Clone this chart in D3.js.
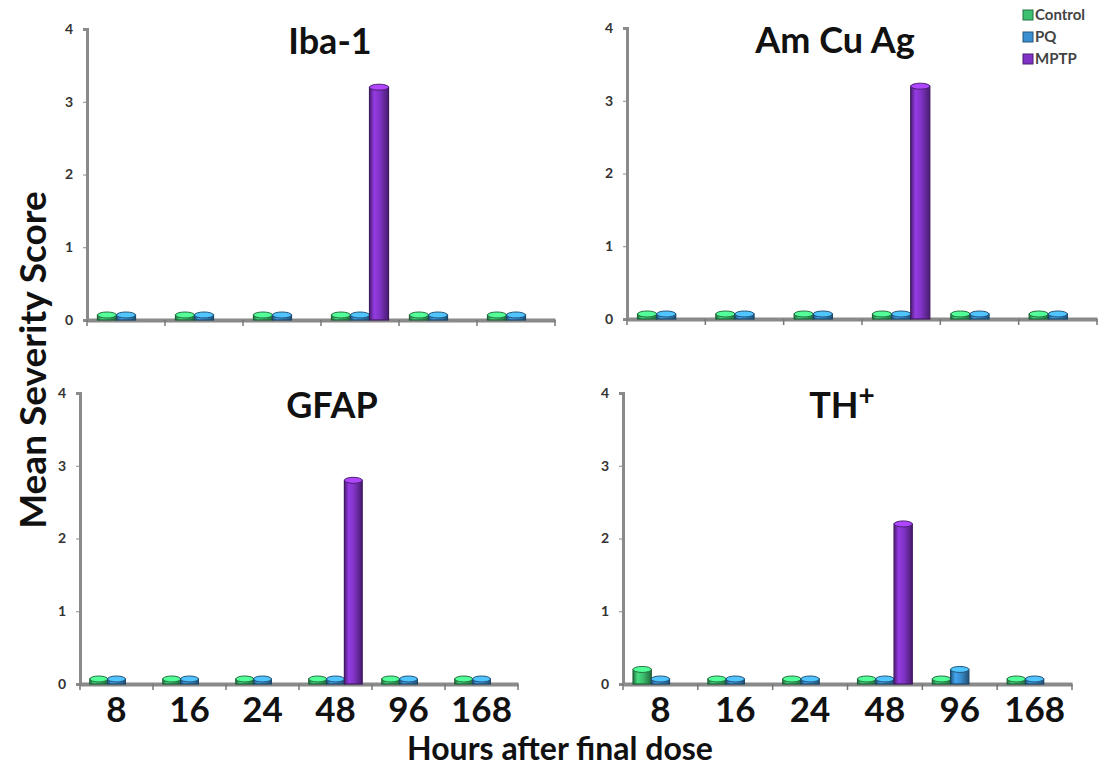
<!DOCTYPE html>
<html lang="en">
<head>
  <meta charset="UTF-8">
  <title>Mean Severity Score by hours after final dose</title>
  <script src="https://d3js.org/d3.v7.min.js"></script>
  <style>
    body { margin: 0; background: #fff; }
    text { font-family: Lato, "Open Sans", sans-serif; }
    .axis path, .axis line { stroke: #8a8a8a; }
    .ytick { font-size: 14px; font-weight: bold; fill: #333; }
    .cat { font-size: 35px; font-weight: bold; fill: #111; }
    .ptitle { font-size: 36px; font-weight: bold; fill: #111; }
    .big { font-size: 32px; font-weight: bold; fill: #111; }
    .ybig { font-size: 37px; font-weight: bold; fill: #111; }
    .legend text { font-size: 15px; font-weight: bold; fill: #444; }
  </style>
</head>
<body>
  <div id="chart"></div>
  <script>
    const hours = ["8", "16", "24", "48", "96", "168"];
    const series = ["Control", "PQ", "MPTP"];
    const colors = { Control: "#3cbf6e", PQ: "#3a8fd0", MPTP: "#8033c4" };
    const yTicks = [0, 1, 2, 3, 4];

    // values per panel (null = not shown)
    const ibaControl = [0, 0, 0, 0, 0, 0];
    const ibaPQ      = [0, 0, 0, 0, 0, 0];
    const ibaMPTP    = [null, null, null, 3.2, null, null];

    const amcuControl = [0, 0, 0, 0, 0, 0];
    const amcuPQ      = [0, 0, 0, 0, 0, 0];
    const amcuMPTP    = [null, null, null, 3.2, null, null];

    const gfapControl = [0, 0, 0, 0, 0, 0];
    const gfapPQ      = [0, 0, 0, 0, 0, 0];
    const gfapMPTP    = [null, null, null, 2.8, null, null];

    const thControl = [0.2, 0, 0, 0, 0, 0];
    const thPQ      = [0, 0, 0, 0, 0.2, 0];
    const thMPTP    = [null, null, null, 2.2, null, null];

    const panels = [
      { title: "Iba-1", sup: "", vals: [ibaControl, ibaPQ, ibaMPTP], x0: 87, x1: 555, yTop: 29, yZero: 320, tx: 330, cats: false },
      { title: "Am Cu Ag", sup: "", vals: [amcuControl, amcuPQ, amcuMPTP], x0: 627, x1: 1097, yTop: 28, yZero: 319, tx: 835, cats: false },
      { title: "GFAP", sup: "", vals: [gfapControl, gfapPQ, gfapMPTP], x0: 80, x1: 518, yTop: 393, yZero: 684, tx: 332, cats: true },
      { title: "TH", sup: "+", vals: [thControl, thPQ, thMPTP], x0: 623, x1: 1072, yTop: 393, yZero: 684, tx: 842, cats: true }
    ];

    const svg = d3.select("#chart").append("svg")
      .attr("width", 1103).attr("height", 768);

    // cylinder gradients
    const defs = svg.append("defs");
    series.forEach(s => {
      const c = d3.color(colors[s]);
      const g = defs.append("linearGradient").attr("id", "g-" + s)
        .attr("x1", "0%").attr("x2", "100%").attr("y1", "0%").attr("y2", "0%");
      g.append("stop").attr("offset", "0%").attr("stop-color", c.darker(1.4));
      g.append("stop").attr("offset", "25%").attr("stop-color", c.brighter(0.4));
      g.append("stop").attr("offset", "55%").attr("stop-color", c);
      g.append("stop").attr("offset", "100%").attr("stop-color", c.darker(1.6));
    });

    panels.forEach(p => {
      const x = d3.scaleBand().domain(hours).range([p.x0, p.x1]);
      const xs = d3.scaleBand().domain(series).range([0, x.bandwidth()]).paddingOuter(0.55);
      const y = d3.scaleLinear().domain([0, 4]).range([p.yZero, p.yTop]);

      const g = svg.append("g");

      // y axis
      const ya = g.append("g").attr("class", "axis")
        .attr("transform", `translate(${p.x0},0)`)
        .call(d3.axisLeft(y).tickValues(yTicks).tickSize(4).tickFormat(d3.format("d")));
      ya.select(".domain").attr("stroke-width", 3);
      ya.selectAll(".tick text").attr("class", "ytick").attr("x", -14);

      // x axis floor
      const xa = g.append("g").attr("class", "axis")
        .attr("transform", `translate(0,${p.yZero})`)
        .call(d3.axisBottom(x).tickSize(0).tickFormat(""));
      xa.select(".domain").attr("stroke-width", 4).attr("stroke", "#999");
      // tick marks at band edges
      g.selectAll(".edge").data(hours.concat(["end"])).enter().append("line")
        .attr("x1", (d, i) => p.x0 + i * x.bandwidth())
        .attr("x2", (d, i) => p.x0 + i * x.bandwidth())
        .attr("y1", p.yZero).attr("y2", p.yZero + 6)
        .attr("stroke", "#777").attr("stroke-width", 1.5);

      // bars as cylinders
      series.forEach((s, si) => {
        const data = p.vals[si].map((v, i) => ({ h: hours[i], v: v })).filter(d => d.v !== null);
        const bw = xs.bandwidth();
        const ry = 3;
        const top = d => Math.min(y(d.v), p.yZero - 5);
        const bars = g.selectAll(".bar-" + s).data(data).enter().append("g");
        bars.append("rect")
          .attr("x", d => x(d.h) + xs(s))
          .attr("width", bw)
          .attr("y", top)
          .attr("height", d => p.yZero - top(d))
          .attr("fill", "url(#g-" + s + ")")
          .attr("stroke", d3.color(colors[s]).darker(2))
          .attr("stroke-width", 1.2);
        bars.append("ellipse")
          .attr("cx", d => x(d.h) + xs(s) + bw / 2)
          .attr("cy", top)
          .attr("rx", bw / 2).attr("ry", ry)
          .attr("fill", d3.color(colors[s]).brighter(0.9))
          .attr("stroke", d3.color(colors[s]).darker(1.5))
          .attr("stroke-width", 1);
      });

      // category labels
      if (p.cats) {
        g.selectAll(".cat").data(hours).enter().append("text")
          .attr("class", "cat")
          .attr("x", d => x(d) + x.bandwidth() / 2)
          .attr("y", p.yZero + 38)
          .attr("text-anchor", "middle")
          .text(d => d);
      }

      // panel title
      const t = g.append("text").attr("class", "ptitle")
        .attr("x", p.tx)
        .attr("y", p.yTop + 25)
        .attr("text-anchor", "middle")
        .text(p.title);
      if (p.sup) {
        t.append("tspan").attr("dy", -13).attr("font-size", 28).text(p.sup);
      }
    });

    // axis titles
    svg.append("text").attr("class", "ybig")
      .attr("transform", "translate(46,360) rotate(-90)")
      .attr("text-anchor", "middle")
      .text("Mean Severity Score");
    svg.append("text").attr("class", "big")
      .attr("x", 560).attr("y", 760)
      .attr("text-anchor", "middle")
      .text("Hours after final dose");

    // legend
    const leg = svg.append("g").attr("class", "legend");
    series.forEach((s, i) => {
      const ly = 15 + i * 22;
      leg.append("rect").attr("x", 1023).attr("y", ly - 5).attr("width", 10).attr("height", 10)
        .attr("fill", colors[s]).attr("stroke", d3.color(colors[s]).darker(1.5));
      leg.append("text").attr("x", 1035).attr("y", ly + 5).text(s);
    });
  </script>
</body>
</html>
